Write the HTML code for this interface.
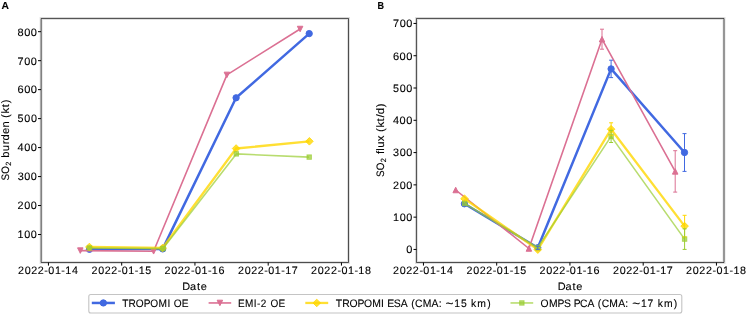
<!DOCTYPE html><html><head><meta charset="utf-8"><style>html,body{margin:0;padding:0;background:#fff;overflow:hidden}svg{display:block;will-change:transform}text{text-rendering:geometricPrecision;stroke:#000;stroke-width:0.12px}</style></head><body>
<svg width="747" height="315" viewBox="0 0 747 315" font-family="Liberation Sans, sans-serif" fill="#000">
<rect width="747" height="315" fill="#fff"/>
<polyline points="89.46,249.3 162.71,248.9 236.1,97.8 309.2,33.6" fill="none" stroke="#4169e1" stroke-width="2.5" stroke-linejoin="round" />
<circle cx="89.46" cy="249.3" r="3.15" fill="#4169e1" stroke="#4169e1" stroke-width="1.0"/>
<circle cx="162.71" cy="248.9" r="3.15" fill="#4169e1" stroke="#4169e1" stroke-width="1.0"/>
<circle cx="236.1" cy="97.8" r="3.15" fill="#4169e1" stroke="#4169e1" stroke-width="1.0"/>
<circle cx="309.2" cy="33.6" r="3.15" fill="#4169e1" stroke="#4169e1" stroke-width="1.0"/>
<polyline points="80.3,250.6 153.6,251.3 226.9,74.9 300.1,29" fill="none" stroke="#db7093" stroke-width="1.6" stroke-linejoin="round" />
<path d="M77.55,247.85L83.05,247.85L80.3,253.35Z" fill="#db7093" stroke="#db7093" stroke-width="1.0" stroke-linejoin="round"/>
<path d="M150.85,248.55L156.35,248.55L153.6,254.05Z" fill="#db7093" stroke="#db7093" stroke-width="1.0" stroke-linejoin="round"/>
<path d="M224.15,72.15L229.65,72.15L226.9,77.65Z" fill="#db7093" stroke="#db7093" stroke-width="1.0" stroke-linejoin="round"/>
<path d="M297.35,26.25L302.85,26.25L300.1,31.75Z" fill="#db7093" stroke="#db7093" stroke-width="1.0" stroke-linejoin="round"/>
<polyline points="89.4,247 162.6,248 236.1,148.5 309.4,141.3" fill="none" stroke="#ffd700" stroke-width="2.3" stroke-linejoin="round" stroke-opacity="0.8"/>
<path d="M89.4,243.2L93.2,247L89.4,250.8L85.6,247Z" fill="#ffd700" stroke="#ffd700" stroke-width="1.0" stroke-linejoin="round" fill-opacity="0.8" stroke-opacity="0.8"/>
<path d="M162.6,244.2L166.4,248L162.6,251.8L158.8,248Z" fill="#ffd700" stroke="#ffd700" stroke-width="1.0" stroke-linejoin="round" fill-opacity="0.8" stroke-opacity="0.8"/>
<path d="M236.1,144.7L239.9,148.5L236.1,152.3L232.3,148.5Z" fill="#ffd700" stroke="#ffd700" stroke-width="1.0" stroke-linejoin="round" fill-opacity="0.8" stroke-opacity="0.8"/>
<path d="M309.4,137.5L313.2,141.3L309.4,145.1L305.6,141.3Z" fill="#ffd700" stroke="#ffd700" stroke-width="1.0" stroke-linejoin="round" fill-opacity="0.8" stroke-opacity="0.8"/>
<polyline points="89.4,248 163,248.6 236.3,153.9 309.2,157.1" fill="none" stroke="#9acd32" stroke-width="1.6" stroke-linejoin="round" stroke-opacity="0.7"/>
<rect x="87.2" y="245.8" width="4.4" height="4.4" fill="#9acd32" stroke="#9acd32" stroke-width="1.0" fill-opacity="0.7" stroke-opacity="0.7"/>
<rect x="160.8" y="246.4" width="4.4" height="4.4" fill="#9acd32" stroke="#9acd32" stroke-width="1.0" fill-opacity="0.7" stroke-opacity="0.7"/>
<rect x="234.1" y="151.7" width="4.4" height="4.4" fill="#9acd32" stroke="#9acd32" stroke-width="1.0" fill-opacity="0.7" stroke-opacity="0.7"/>
<rect x="307" y="154.9" width="4.4" height="4.4" fill="#9acd32" stroke="#9acd32" stroke-width="1.0" fill-opacity="0.7" stroke-opacity="0.7"/>
<polyline points="464.4,203.8 537.8,247.75 611.1,68.9 684.5,152.5" fill="none" stroke="#4169e1" stroke-width="2.5" stroke-linejoin="round" />
<circle cx="464.4" cy="203.8" r="3.15" fill="#4169e1" stroke="#4169e1" stroke-width="1.0"/>
<circle cx="537.8" cy="247.75" r="3.15" fill="#4169e1" stroke="#4169e1" stroke-width="1.0"/>
<circle cx="611.1" cy="68.9" r="3.15" fill="#4169e1" stroke="#4169e1" stroke-width="1.0"/>
<circle cx="684.5" cy="152.5" r="3.15" fill="#4169e1" stroke="#4169e1" stroke-width="1.0"/>
<polyline points="455.7,190 528.9,248.5 602,39.2 675.2,171.4" fill="none" stroke="#db7093" stroke-width="1.6" stroke-linejoin="round" />
<path d="M452.95,192.75L458.45,192.75L455.7,187.25Z" fill="#db7093" stroke="#db7093" stroke-width="1.0" stroke-linejoin="round"/>
<path d="M526.15,251.25L531.65,251.25L528.9,245.75Z" fill="#db7093" stroke="#db7093" stroke-width="1.0" stroke-linejoin="round"/>
<path d="M599.25,41.95L604.75,41.95L602,36.45Z" fill="#db7093" stroke="#db7093" stroke-width="1.0" stroke-linejoin="round"/>
<path d="M672.45,174.15L677.95,174.15L675.2,168.65Z" fill="#db7093" stroke="#db7093" stroke-width="1.0" stroke-linejoin="round"/>
<polyline points="464.5,198.7 537.8,249.65 611.1,129.2 684.6,226.1" fill="none" stroke="#ffd700" stroke-width="2.3" stroke-linejoin="round" stroke-opacity="0.8"/>
<path d="M464.5,194.9L468.3,198.7L464.5,202.5L460.7,198.7Z" fill="#ffd700" stroke="#ffd700" stroke-width="1.0" stroke-linejoin="round" fill-opacity="0.8" stroke-opacity="0.8"/>
<path d="M537.8,245.85L541.6,249.65L537.8,253.45L534,249.65Z" fill="#ffd700" stroke="#ffd700" stroke-width="1.0" stroke-linejoin="round" fill-opacity="0.8" stroke-opacity="0.8"/>
<path d="M611.1,125.4L614.9,129.2L611.1,133L607.3,129.2Z" fill="#ffd700" stroke="#ffd700" stroke-width="1.0" stroke-linejoin="round" fill-opacity="0.8" stroke-opacity="0.8"/>
<path d="M684.6,222.3L688.4,226.1L684.6,229.9L680.8,226.1Z" fill="#ffd700" stroke="#ffd700" stroke-width="1.0" stroke-linejoin="round" fill-opacity="0.8" stroke-opacity="0.8"/>
<polyline points="464.7,203.5 537.8,247.6 611.1,136.4 684.6,239.1" fill="none" stroke="#9acd32" stroke-width="1.6" stroke-linejoin="round" stroke-opacity="0.7"/>
<rect x="462.5" y="201.3" width="4.4" height="4.4" fill="#9acd32" stroke="#9acd32" stroke-width="1.0" fill-opacity="0.7" stroke-opacity="0.7"/>
<rect x="535.6" y="245.4" width="4.4" height="4.4" fill="#9acd32" stroke="#9acd32" stroke-width="1.0" fill-opacity="0.7" stroke-opacity="0.7"/>
<rect x="608.9" y="134.2" width="4.4" height="4.4" fill="#9acd32" stroke="#9acd32" stroke-width="1.0" fill-opacity="0.7" stroke-opacity="0.7"/>
<rect x="682.4" y="236.9" width="4.4" height="4.4" fill="#9acd32" stroke="#9acd32" stroke-width="1.0" fill-opacity="0.7" stroke-opacity="0.7"/>
<path d="M537.8,246.2V249.3M535.8,246.2H539.8M535.8,249.3H539.8" stroke="#4169e1" stroke-width="1" fill="none" />
<path d="M611.1,60.2V77.6M609.1,60.2H613.1M609.1,77.6H613.1" stroke="#4169e1" stroke-width="1" fill="none" />
<path d="M684.5,133.6V171.4M682.5,133.6H686.5M682.5,171.4H686.5" stroke="#4169e1" stroke-width="1" fill="none" />
<path d="M602,29.2V49.2M600,29.2H604M600,49.2H604" stroke="#db7093" stroke-width="1" fill="none" />
<path d="M675.2,150.7V192.1M673.2,150.7H677.2M673.2,192.1H677.2" stroke="#db7093" stroke-width="1" fill="none" />
<path d="M611.1,122.8V135.6M609.1,122.8H613.1M609.1,135.6H613.1" stroke="#ffd700" stroke-width="1" fill="none" />
<path d="M684.6,215.3V236.9M682.6,215.3H686.6M682.6,236.9H686.6" stroke="#ffd700" stroke-width="1" fill="none" />
<path d="M611.1,130.3V142.5M609.1,130.3H613.1M609.1,142.5H613.1" stroke="#9acd32" stroke-width="1" fill="none" />
<path d="M684.6,228.8V249.4M682.6,228.8H686.6M682.6,249.4H686.6" stroke="#9acd32" stroke-width="1" fill="none" />
<line x1="38" y1="234.52" x2="41" y2="234.52" stroke="#000" stroke-width="1" />
<text x="17.57 24.23 30.85" y="238.37" font-size="10.8" transform="scale(1.0009,1)">100</text>
<line x1="38" y1="205.54" x2="41" y2="205.54" stroke="#000" stroke-width="1" />
<text x="17.44 24.17 30.77" y="209.39" font-size="10.8" transform="scale(1.0033,1)">200</text>
<line x1="38" y1="176.57" x2="41" y2="176.57" stroke="#000" stroke-width="1" />
<text x="17.62 24.21 30.82" y="180.42" font-size="10.8" transform="scale(1.0018,1)">300</text>
<line x1="38" y1="147.59" x2="41" y2="147.59" stroke="#000" stroke-width="1" />
<text x="17.33 23.85 30.37" y="151.44" font-size="10.8" transform="scale(1.0151,1)">400</text>
<line x1="38" y1="118.61" x2="41" y2="118.61" stroke="#000" stroke-width="1" />
<text x="17.68 24.36 31.01" y="122.46" font-size="10.8" transform="scale(0.9962,1)">500</text>
<line x1="38" y1="89.63" x2="41" y2="89.63" stroke="#000" stroke-width="1" />
<text x="17.11 23.55 30" y="93.48" font-size="10.8" transform="scale(1.0267,1)">600</text>
<line x1="38" y1="60.66" x2="41" y2="60.66" stroke="#000" stroke-width="1" />
<text x="17.46 24.04 30.61" y="64.51" font-size="10.8" transform="scale(1.0080,1)">700</text>
<line x1="38" y1="31.68" x2="41" y2="31.68" stroke="#000" stroke-width="1" />
<text x="17.26 23.76 30.25" y="35.53" font-size="10.8" transform="scale(1.0187,1)">800</text>
<line x1="48.44" y1="262.5" x2="48.44" y2="265.6" stroke="#000" stroke-width="1" />
<text x="18.07 24.85 31.35 37.99 44.54 48.54 55.13 61.59 65.53 72.23" y="273.7" font-size="10.8" transform="scale(0.9964,1)">2022-01-14</text>
<line x1="121.69" y1="262.5" x2="121.69" y2="265.6" stroke="#000" stroke-width="1" />
<text x="92.39 99.21 105.76 112.45 119.03 123.06 129.7 136.19 140.17 146.87" y="273.7" font-size="10.8" transform="scale(0.9897,1)">2022-01-15</text>
<line x1="194.94" y1="262.5" x2="194.94" y2="265.6" stroke="#000" stroke-width="1" />
<text x="164.51 171.26 177.74 184.35 190.88 194.86 201.42 207.87 211.79 218.46" y="273.7" font-size="10.8" transform="scale(1.0001,1)">2022-01-16</text>
<line x1="268.19" y1="262.5" x2="268.19" y2="265.6" stroke="#000" stroke-width="1" />
<text x="239.42 246.22 252.74 259.4 265.96 269.97 276.58 283.05 287.01 293.7" y="273.7" font-size="10.8" transform="scale(0.9937,1)">2022-01-17</text>
<line x1="341.44" y1="262.5" x2="341.44" y2="265.6" stroke="#000" stroke-width="1" />
<text x="311.86 318.63 325.12 331.76 338.3 342.29 348.87 355.33 359.27 365.95" y="273.7" font-size="10.8" transform="scale(0.9975,1)">2022-01-18</text>
<text x="180.14 187.74 194.77 198.49" y="289.9" font-size="10.8" transform="scale(1.0115,1)">Date</text>
<text x="0.09 7.57" y="0" font-size="10.8" transform="translate(8.9,180.69) rotate(-90) scale(0.9092,1)">SO</text>
<text x="15.28" y="0" font-size="7.56" transform="translate(10.8,180.69) rotate(-90) scale(0.9784,1)">2</text>
<text x="22 28.24 34.86 38.45 44.76 50.98 57.12 60.16 64.43 70.38 74.28" y="0" font-size="10.8" transform="translate(8.9,180.69) rotate(-90) scale(1.0434,1)">burden (kt)</text>
<line x1="413.5" y1="249.44" x2="416.5" y2="249.44" stroke="#000" stroke-width="1" />
<text x="400.19" y="253.29" font-size="10.8" transform="scale(1.0151,1)">0</text>
<line x1="413.5" y1="217.15" x2="416.5" y2="217.15" stroke="#000" stroke-width="1" />
<text x="392.62 399.29 405.9" y="221" font-size="10.8" transform="scale(1.0009,1)">100</text>
<line x1="413.5" y1="184.87" x2="416.5" y2="184.87" stroke="#000" stroke-width="1" />
<text x="391.62 398.35 404.94" y="188.72" font-size="10.8" transform="scale(1.0033,1)">200</text>
<line x1="413.5" y1="152.58" x2="416.5" y2="152.58" stroke="#000" stroke-width="1" />
<text x="392.36 398.95 405.56" y="156.43" font-size="10.8" transform="scale(1.0018,1)">300</text>
<line x1="413.5" y1="120.3" x2="416.5" y2="120.3" stroke="#000" stroke-width="1" />
<text x="387.14 393.66 400.17" y="124.15" font-size="10.8" transform="scale(1.0151,1)">400</text>
<line x1="413.5" y1="88.01" x2="416.5" y2="88.01" stroke="#000" stroke-width="1" />
<text x="394.53 401.21 407.85" y="91.86" font-size="10.8" transform="scale(0.9962,1)">500</text>
<line x1="413.5" y1="55.72" x2="416.5" y2="55.72" stroke="#000" stroke-width="1" />
<text x="382.76 389.21 395.65" y="59.57" font-size="10.8" transform="scale(1.0267,1)">600</text>
<line x1="413.5" y1="23.44" x2="416.5" y2="23.44" stroke="#000" stroke-width="1" />
<text x="389.89 396.48 403.04" y="27.29" font-size="10.8" transform="scale(1.0080,1)">700</text>
<line x1="423.44" y1="262.5" x2="423.44" y2="265.6" stroke="#000" stroke-width="1" />
<text x="394.43 401.21 407.71 414.35 420.9 424.9 431.48 437.95 441.89 448.58" y="273.7" font-size="10.8" transform="scale(0.9964,1)">2022-01-14</text>
<line x1="496.69" y1="262.5" x2="496.69" y2="265.6" stroke="#000" stroke-width="1" />
<text x="471.29 478.11 484.66 491.34 497.93 501.96 508.59 515.09 519.07 525.77" y="273.7" font-size="10.8" transform="scale(0.9897,1)">2022-01-15</text>
<line x1="569.94" y1="262.5" x2="569.94" y2="265.6" stroke="#000" stroke-width="1" />
<text x="539.45 546.2 552.68 559.3 565.83 569.8 576.37 582.81 586.73 593.4" y="273.7" font-size="10.8" transform="scale(1.0001,1)">2022-01-16</text>
<line x1="643.19" y1="262.5" x2="643.19" y2="265.6" stroke="#000" stroke-width="1" />
<text x="616.79 623.59 630.11 636.77 643.33 647.34 653.95 660.43 664.38 671.07" y="273.7" font-size="10.8" transform="scale(0.9937,1)">2022-01-17</text>
<line x1="716.44" y1="262.5" x2="716.44" y2="265.6" stroke="#000" stroke-width="1" />
<text x="687.81 694.58 701.08 707.71 714.25 718.24 724.82 731.28 735.22 741.91" y="273.7" font-size="10.8" transform="scale(0.9975,1)">2022-01-18</text>
<text x="551.37 558.97 566 569.72" y="289.9" font-size="10.8" transform="scale(1.0115,1)">Date</text>
<text x="0.09 7.57" y="0" font-size="10.8" transform="translate(384.1,177.19) rotate(-90) scale(0.9092,1)">SO</text>
<text x="15.28" y="0" font-size="7.56" transform="translate(386,177.19) rotate(-90) scale(0.9784,1)">2</text>
<text x="21.78 25.05 27.7 34.01 39.63 42.59 46.78 52.65 56.26 59.46 66.02" y="0" font-size="10.8" transform="translate(384.1,177.19) rotate(-90) scale(1.0603,1)">flux (kt/d)</text>
<path d="M41.15,18.45H348.5V262.5H41.15Z" fill="none" stroke="#000" stroke-width="3" stroke-opacity="0.12"/>
<path d="M41.15,18.45H348.5V262.5H41.15Z" fill="none" stroke="#000" stroke-width="1" stroke-opacity="0.66"/>
<path d="M416.45,18.45H724V262.5H416.45Z" fill="none" stroke="#000" stroke-width="3" stroke-opacity="0.12"/>
<path d="M416.45,18.45H724V262.5H416.45Z" fill="none" stroke="#000" stroke-width="1" stroke-opacity="0.66"/>
<text x="1.53" y="9" font-size="10.2" font-weight="bold" text-rendering="geometricPrecision" transform="scale(1.0083,1)">A</text>
<text x="426.96" y="9" font-size="10.2" font-weight="bold" text-rendering="geometricPrecision" transform="scale(0.8842,1)">B</text>
<rect x="88.8" y="294.45" width="593" height="18.5" rx="2" ry="2" fill="#fff" stroke="#c4c4c4" stroke-width="1.1"/>
<line x1="91.8" y1="302.95" x2="114.9" y2="302.95" stroke="#4169e1" stroke-width="2.5" />
<circle cx="103.35" cy="302.95" r="3.15" fill="#4169e1" stroke="#4169e1" stroke-width="1.0"/>
<text x="130.23 137.05 144.77 153.27 160.18 169.02 178.44 181.57 185.26 193.69" y="306.5" font-size="10.8" transform="scale(0.9384,1)">TROPOMI OE</text>
<line x1="208.6" y1="302.95" x2="231.2" y2="302.95" stroke="#db7093" stroke-width="1.6" />
<path d="M217.15,300.2L222.65,300.2L219.9,305.7Z" fill="#db7093" stroke="#db7093" stroke-width="1.0" stroke-linejoin="round"/>
<text x="256.92 264.43 273.93 277.31 281.55 288.27 292.06 300.61" y="306.5" font-size="10.8" transform="scale(0.9264,1)">EMI-2 OE</text>
<line x1="305.3" y1="302.95" x2="328.2" y2="302.95" stroke="#ffd700" stroke-width="2.3" stroke-opacity="0.8"/>
<path d="M316.75,299.15L320.55,302.95L316.75,306.75L312.95,302.95Z" fill="#ffd700" stroke="#ffd700" stroke-width="1.0" stroke-linejoin="round" fill-opacity="0.8" stroke-opacity="0.8"/>
<text x="349.2 355.84 363.37 371.67 378.4 387.03 396.28 399.37 402.6 409.53 416.8 424.11 427.58 431.58 439.48 448.74 456.18 459.49 463.36 472.38 479.27 485.75 489.73 496.25 506.57" y="306.5" font-size="10.8" transform="scale(0.9617,1)">TROPOMI ESA (CMA: <tspan font-size="14.04" dy="1.4">~</tspan><tspan dy="-1.4">15 km)</tspan></text>
<line x1="510.5" y1="302.95" x2="533.2" y2="302.95" stroke="#9acd32" stroke-width="1.6" stroke-opacity="0.7"/>
<rect x="519.65" y="300.75" width="4.4" height="4.4" fill="#9acd32" stroke="#9acd32" stroke-width="1.0" fill-opacity="0.7" stroke-opacity="0.7"/>
<text x="564.67 573.33 582.38 588.97 595.96 599.28 605.8 613.66 620.98 624.48 628.51 636.45 645.74 653.2 656.53 660.44 669.49 676.43 682.91 686.91 693.48 703.83" y="306.5" font-size="10.8" transform="scale(0.9574,1)">OMPS PCA (CMA: <tspan font-size="14.04" dy="1.4">~</tspan><tspan dy="-1.4">17 km)</tspan></text>
</svg></body></html>
